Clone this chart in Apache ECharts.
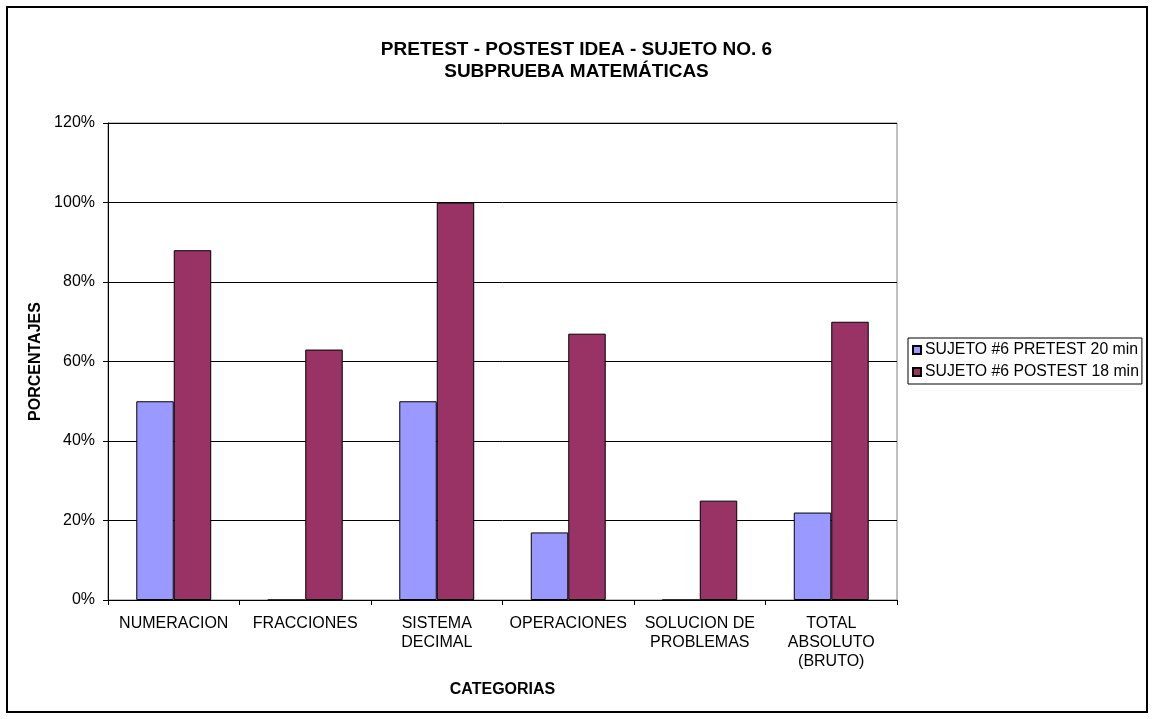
<!DOCTYPE html>
<html>
<head>
<meta charset="utf-8">
<script src="https://cdn.jsdelivr.net/npm/echarts@6/dist/echarts.min.js"></script>
<style>
  html, body { margin: 0; padding: 0; background: #ffffff; }
  #chart { width: 1153px; height: 719px; }
</style>
</head>
<body>
<div id="chart"></div>
<script>
// Subtest categories (x axis)
const categories = [
  'NUMERACION',
  'FRACCIONES',
  'SISTEMA\nDECIMAL',
  'OPERACIONES',
  'SOLUCION DE\nPROBLEMAS',
  'TOTAL\nABSOLUTO\n(BRUTO)'
];
// Percent scores per category
const pretestValues = [50, 0, 50, 17, 0, 22];
const posttestValues = [88, 63, 100, 67, 25, 70];
const seriesNames = ['SUJETO #6 PRETEST 20 min', 'SUJETO #6 POSTEST 18 min'];
// Y axis range (percent)
const yMin = 0, yMax = 120, yStep = 20;

const FONT = '"Liberation Sans", Arial, sans-serif';
const chart = echarts.init(document.getElementById('chart'), null, { renderer: 'canvas' });

const barStyle = (color) => ({ color: color, borderColor: '#000000', borderWidth: 1 });

chart.setOption({
  backgroundColor: '#ffffff',
  animation: false,
  textStyle: { fontFamily: FONT, color: '#000000' },
  title: {
    text: 'PRETEST - POSTEST IDEA - SUJETO NO. 6\nSUBPRUEBA MATEMÁTICAS',
    left: 'center',
    top: 34,
    textStyle: { fontFamily: FONT, fontWeight: 'bold', fontSize: 19, lineHeight: 22, color: '#000000' }
  },
  legend: {
    orient: 'vertical',
    left: 908,
    top: 338,
    data: seriesNames,
    icon: 'rect',
    itemWidth: 8,
    itemHeight: 8,
    itemGap: 6,
    padding: [4, 3, 4, 4],
    borderColor: '#000000',
    borderWidth: 1,
    textStyle: { fontFamily: FONT, fontSize: 15.8, color: '#000000', padding: [0, 0, 0, -1] }
  },
  grid: {
    left: 108,
    right: 256,
    top: 123,
    bottom: 119,
    show: true,
    borderColor: '#808080',
    borderWidth: 1,
    containLabel: false
  },
  xAxis: {
    type: 'category',
    data: categories,
    name: 'CATEGORIAS',
    nameLocation: 'middle',
    nameGap: 82,
    nameTextStyle: { fontFamily: FONT, fontWeight: 'bold', fontSize: 16, color: '#000000' },
    axisLine: { show: true, lineStyle: { color: '#000000', width: 1 } },
    axisTick: { show: true, alignWithLabel: false, length: 5, lineStyle: { color: '#000000' } },
    axisLabel: { interval: 0, fontFamily: FONT, fontSize: 16, color: '#000000', lineHeight: 19, margin: 14 },
    splitLine: { show: false }
  },
  yAxis: {
    type: 'value',
    min: yMin,
    max: yMax,
    interval: yStep,
    name: 'PORCENTAJES',
    nameLocation: 'middle',
    nameRotate: 90,
    nameGap: 57,
    nameTextStyle: { fontFamily: FONT, fontWeight: 'bold', fontSize: 16, color: '#000000' },
    axisLine: { show: true, lineStyle: { color: '#000000', width: 1 } },
    axisTick: { show: true, length: 5, lineStyle: { color: '#000000' } },
    axisLabel: { formatter: '{value}%', fontFamily: FONT, fontSize: 16, color: '#000000', margin: 13 },
    splitLine: { show: true, lineStyle: { color: '#000000', width: 1 } }
  },
  series: [
    {
      name: seriesNames[0],
      type: 'bar',
      data: pretestValues,
      barGap: '0%',
      barCategoryGap: '43%',
      itemStyle: barStyle('#9999ff')
    },
    {
      name: seriesNames[1],
      type: 'bar',
      data: posttestValues,
      barGap: '0%',
      barCategoryGap: '43%',
      itemStyle: barStyle('#993366')
    }
  ],
  graphic: [
    {
      type: 'rect',
      shape: { x: 7, y: 7, width: 1140, height: 705 },
      style: { fill: 'none', stroke: '#000000', lineWidth: 2 },
      silent: true,
      z: 100
    }
  ]
});
</script>
</body>
</html>
